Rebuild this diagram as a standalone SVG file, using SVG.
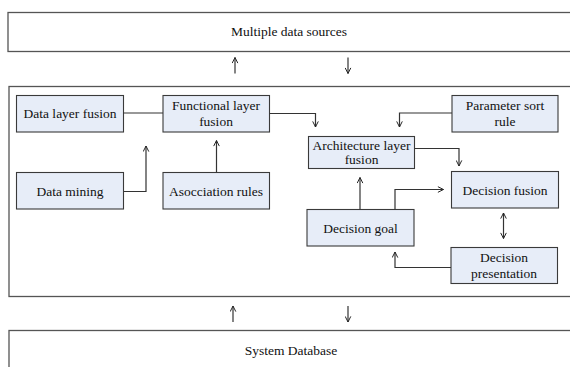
<svg xmlns="http://www.w3.org/2000/svg" width="570" height="367" viewBox="0 0 570 367">
<defs>
<marker id="ah" viewBox="0 0 10 10" refX="9" refY="5" markerWidth="7" markerHeight="7" markerUnits="userSpaceOnUse" orient="auto-start-reverse">
<path d="M1,1 L9,5 L1,9" fill="none" stroke="#222" stroke-width="1.4"/>
</marker>
</defs>
<style>
.layer{fill:#fff;stroke:#555;stroke-width:1.3}
.node{fill:#e7edf8;stroke:#3a3a3a;stroke-width:1.1}
.t{font-family:"Liberation Serif","Times New Roman",serif;font-size:13.5px;fill:#111;text-anchor:middle}
.c{fill:none;stroke:#333;stroke-width:1.2}
.a{marker-end:url(#ah)}
.b{marker-start:url(#ah);marker-end:url(#ah)}
</style>
<g id="multiple-data-sources">
<rect class="layer" x="8" y="12.5" width="570" height="39"/>
<text class="t" x="289" y="36">Multiple data sources</text>
</g>
<g id="fusion-layer">
<rect class="layer" x="9" y="86.5" width="570" height="210"/>
</g>
<g id="system-database">
<rect class="layer" x="9" y="330.5" width="570" height="50"/>
<text class="t" x="291" y="355">System Database</text>
</g>
<g id="data-layer-fusion">
<rect class="node" x="16.5" y="95.5" width="107" height="36.5"/>
<text class="t" x="70" y="118">Data layer fusion</text>
</g>
<g id="functional-layer-fusion">
<rect class="node" x="163" y="95.5" width="106.5" height="36.5"/>
<text class="t" x="216" y="110">Functional layer</text>
<text class="t" x="216" y="125.5">fusion</text>
</g>
<g id="data-mining">
<rect class="node" x="16.5" y="172.5" width="107" height="36.5"/>
<text class="t" x="70" y="195.5">Data mining</text>
</g>
<g id="asocciation-rules">
<rect class="node" x="163" y="172.5" width="106.5" height="36.5"/>
<text class="t" x="216" y="195.5">Asocciation rules</text>
</g>
<g id="parameter-sort-rule">
<rect class="node" x="452" y="95.5" width="106" height="36.5"/>
<text class="t" x="505" y="110">Parameter sort</text>
<text class="t" x="505" y="125.5">rule</text>
</g>
<g id="architecture-layer-fusion">
<rect class="node" x="308.5" y="136.5" width="106" height="32"/>
<text class="t" x="361.5" y="149.5">Architecture layer</text>
<text class="t" x="361.5" y="164">fusion</text>
</g>
<g id="decision-fusion">
<rect class="node" x="451.5" y="171.5" width="107" height="36.5"/>
<text class="t" x="505" y="194.5">Decision fusion</text>
</g>
<g id="decision-goal">
<rect class="node" x="307" y="209.5" width="107" height="36.5"/>
<text class="t" x="360.5" y="232.5">Decision goal</text>
</g>
<g id="decision-presentation">
<rect class="node" x="451" y="247.5" width="106.5" height="36"/>
<text class="t" x="504" y="262">Decision</text>
<text class="t" x="504" y="277.5">presentation</text>
</g>
<g id="connectors">
<line class="c a" x1="235" y1="73.5" x2="235" y2="57.5"/>
<line class="c a" x1="348" y1="57.5" x2="348" y2="73.5"/>
<line class="c a" x1="233" y1="322" x2="233" y2="306"/>
<line class="c a" x1="348" y1="306" x2="348" y2="322"/>
<line class="c" x1="123.5" y1="113" x2="163" y2="113"/>
<polyline class="c a" points="124,191.5 146,191.5 146,146"/>
<line class="c a" x1="216.5" y1="172.5" x2="216.5" y2="140.5"/>
<polyline class="c a" points="269.5,113.5 315.5,113.5 315.5,127"/>
<polyline class="c a" points="452,113 399.5,113 399.5,127"/>
<polyline class="c a" points="414.5,148.5 459,148.5 459,166"/>
<line class="c a" x1="360" y1="209.5" x2="360" y2="177.5"/>
<polyline class="c a" points="395,209.5 395,189.5 443.5,189.5"/>
<line class="c b" x1="503.5" y1="213" x2="503.5" y2="238.5"/>
<polyline class="c a" points="451,267.5 395,267.5 395,252"/>
</g>
</svg>
